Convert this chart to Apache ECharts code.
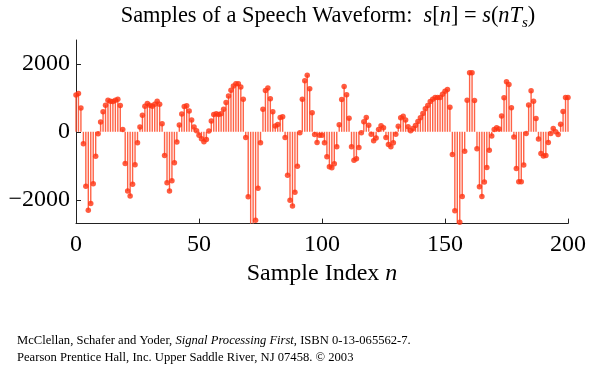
<!DOCTYPE html>
<html>
<head>
<meta charset="utf-8">
<script src="https://cdn.jsdelivr.net/npm/echarts@6/dist/echarts.min.js"></script>
<style>
html,body{margin:0;padding:0;background:#fff;}
#c{width:591px;height:367px;}
</style>
</head>
<body>
<div id="c"></div>
<script>
// Speech samples s[n], n = 0..200
var sampleValues = [
  1080, 1130, 700, -350, -1600, -2310, -2110, -1530, -720, -60,
  290, 590, 780, 930, 900, 890, 930, 960, 770, 70,
  -930, -1740, -1890, -1540, -970, -320, 140, 490, 750, 830,
  780, 750, 810, 900, 810, 235, -700, -1500, -1740, -1440,
  -910, -300, 200, 520, 745, 765, 610, 350, 140, 30,
  -100, -205, -295, -225, 20, 320, 510, 530, 510, 530,
  660, 860, 1050, 1225, 1350, 1410, 1410, 1320, 960, -170,
  -1910, -3000, -2900, -2600, -1660, -320, 660, 1215, 1285, 970,
  590, 170, 215, 420, 440, -170, -1275, -2010, -2185, -1775,
  -1010, -30, 960, 1500, 1665, 1265, 560, -80, -315, -100,
  -100, -320, -735, -1030, -1055, -940, -440, 205, 950, 1335,
  1090, 400, -440, -835, -795, -460, -30, 295, 420, 195,
  -70, -265, -185, 70, 175, 120, -165, -370, -440, -325,
  -70, 165, 410, 460, 345, 145, 30, 100, 185, 300,
  410, 540, 675, 775, 890, 960, 1010, 1010, 1010, 1105,
  1195, 1245, 725, -670, -2320, -2900, -2660, -1905, -570, 930,
  1735, 1735, 920, -500, -1615, -1905, -1480, -1050, -540, -125,
  70, 120, 85, 465, 1000, 1470, 1390, 705, -155, -1080,
  -1470, -1470, -980, -50, 785, 1205, 900, 390, -215, -640,
  -715, -695, -315, -50, 100, 0, -80, 225, 600, 1010,
  1010
];
var xTicks = [0, 50, 100, 150, 200];
var yTicks = [-2000, 0, 2000];
var yRange = [-2700, 2700];

var points = sampleValues.map(function (v, i) { return [i, v]; });

var serif = '"Liberation Serif", "Times New Roman", serif';
var chart = echarts.init(document.getElementById('c'), null, {renderer: 'canvas'});
chart.setOption({
  animation: false,
  backgroundColor: '#ffffff',
  title: {
    text: '{r|Samples of a Speech Waveform:  }{i|s}{r|[}{i|n}{r|] = }{i|s}{r|(}{i|nT}{sub|s}{r|)}',
    left: 323, textAlign: 'center', top: -4,
    textStyle: {
      fontWeight: 'normal',
      rich: {
        r: {fontFamily: serif, fontSize: 22.4, fontWeight: 'normal', color: '#000', lineHeight: 30},
        i: {fontFamily: serif, fontSize: 22.4, fontWeight: 'normal', fontStyle: 'italic', color: '#000', lineHeight: 30},
        sub: {fontFamily: serif, fontSize: 15, fontWeight: 'normal', fontStyle: 'italic', color: '#000', lineHeight: 15, verticalAlign: 'bottom'}
      }
    }
  },
  grid: {left: 76, top: 40, width: 492, height: 183.6, containLabel: false},
  xAxis: {
    type: 'value', min: 0, max: 200, interval: 50,
    axisLine: {show: true, onZero: false, lineStyle: {color: '#222', width: 1}},
    axisTick: {show: true, inside: true, length: 5, lineStyle: {color: '#222'}},
    axisLabel: {margin: 9, fontFamily: serif, fontSize: 24, color: '#000'},
    splitLine: {show: false},
    name: '{r|Sample Index }{i|n}',
    nameLocation: 'middle', nameGap: 33,
    nameTextStyle: {
      rich: {
        r: {fontFamily: serif, fontSize: 24, color: '#000'},
        i: {fontFamily: serif, fontSize: 24, fontStyle: 'italic', color: '#000'}
      }
    }
  },
  yAxis: {
    type: 'value', min: yRange[0], max: yRange[1],
    axisLine: {show: true, lineStyle: {color: '#222', width: 1}},
    axisTick: {show: true, inside: true, length: 5, customValues: yTicks, lineStyle: {color: '#222'}},
    axisLabel: {
      margin: 6, fontFamily: serif, fontSize: 24, color: '#000', customValues: yTicks,
      formatter: function (v) { return v < 0 ? '\u2212' + Math.abs(v) : String(v); }
    },
    splitLine: {show: false}
  },
  series: [
    {
      type: 'bar', data: points, barWidth: 1.4, clip: true,
      itemStyle: {color: '#ff6347'}, z: 2, silent: true
    },
    {
      type: 'scatter', data: points, symbol: 'circle', symbolSize: 5.5, clip: true,
      itemStyle: {color: '#ff3311'}, z: 3, silent: true
    }
  ],
  graphic: [
    {
      type: 'text', left: 17, top: 334,
      style: {
        text: '{r|McClellan, Schafer and Yoder, }{i|Signal Processing First}{r|, ISBN 0-13-065562-7.}',
        rich: {
          r: {fontFamily: serif, fontSize: 12.6, fill: '#000'},
          i: {fontFamily: serif, fontSize: 12.6, fontStyle: 'italic', fill: '#000'}
        }
      }
    },
    {
      type: 'text', left: 17, top: 351,
      style: {
        text: 'Pearson Prentice Hall, Inc. Upper Saddle River, NJ 07458. \u00a9 2003',
        fontFamily: serif, fontSize: 12.6, fill: '#000'
      }
    }
  ]
});
</script>
</body>
</html>
